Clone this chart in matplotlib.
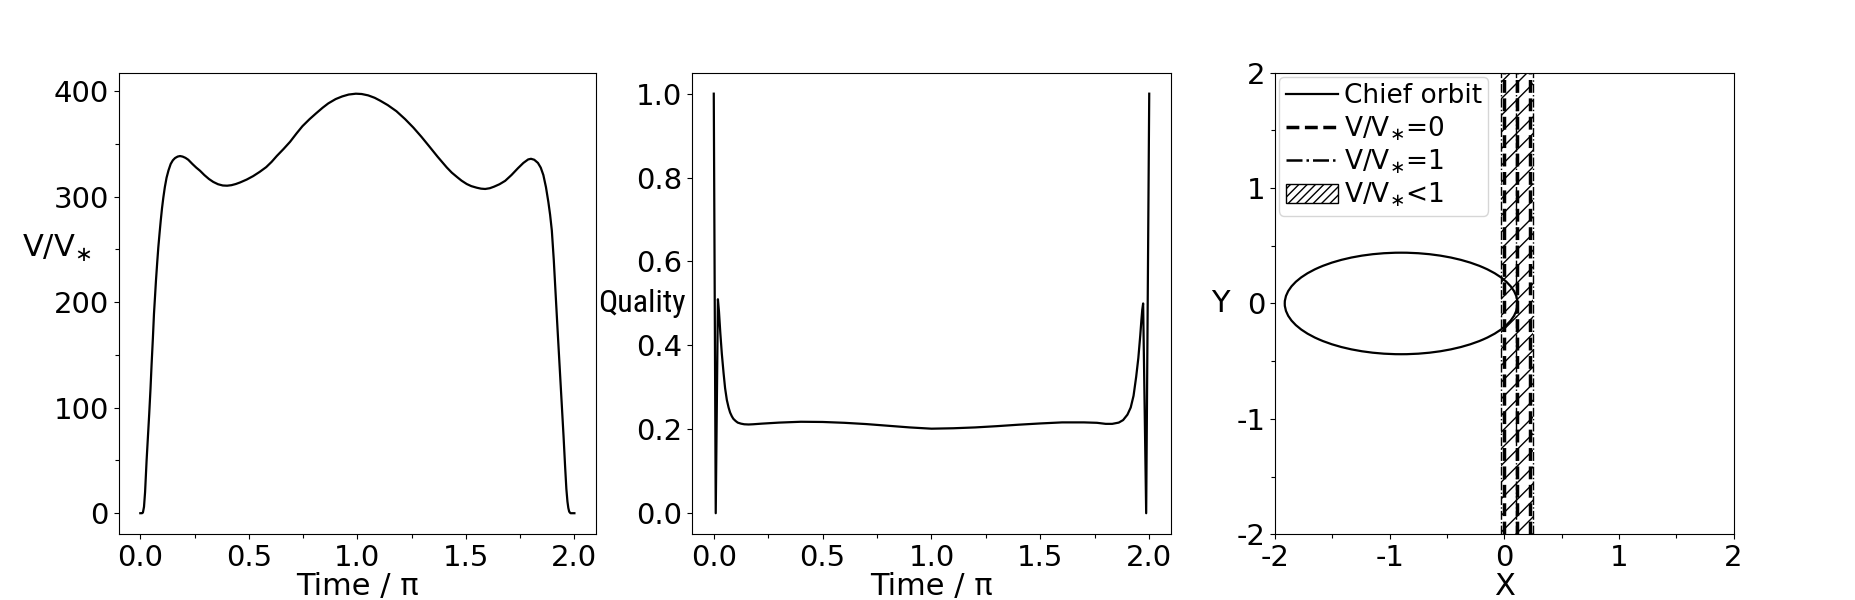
import matplotlib
matplotlib.use('Agg')
import matplotlib.pyplot as plt
from matplotlib.patches import Ellipse, Patch
from matplotlib.lines import Line2D
from matplotlib.ticker import MultipleLocator, NullLocator
from matplotlib import font_manager

plt.rcParams['axes.unicode_minus'] = False
plt.rcParams['mathtext.default'] = 'regular'
plt.rcParams['hatch.linewidth'] = 1.0

# ---------------- data ----------------
time_v = [0.0, 0.008, 0.012, 0.017, 0.022, 0.029, 0.035, 0.041, 0.047, 0.052,
          0.058, 0.063, 0.068, 0.072, 0.078, 0.083, 0.089, 0.094, 0.100, 0.106,
          0.113, 0.121, 0.130, 0.140, 0.150, 0.160, 0.172, 0.183, 0.195, 0.208,
          0.221, 0.240, 0.258, 0.275, 0.295, 0.316, 0.336, 0.358, 0.380, 0.400,
          0.420, 0.440, 0.460, 0.490, 0.520, 0.550, 0.580, 0.605, 0.629, 0.660,
          0.690, 0.720, 0.747, 0.780, 0.810, 0.840, 0.866, 0.900, 0.930, 0.960,
          0.993, 1.020, 1.050, 1.080, 1.105, 1.140, 1.180, 1.220, 1.258, 1.295,
          1.330, 1.370, 1.412, 1.435, 1.460, 1.480, 1.504, 1.525, 1.550, 1.570,
          1.589, 1.610, 1.630, 1.655, 1.681, 1.710, 1.740, 1.765, 1.787, 1.800,
          1.815, 1.832, 1.845, 1.857, 1.869, 1.880, 1.888, 1.896, 1.905, 1.914,
          1.923, 1.932, 1.941, 1.950, 1.957, 1.963, 1.968, 1.972, 1.976, 1.982,
          2.0]
v_ratio = [0.0, 0.0, 0.6, 6, 20, 50, 72, 94, 118, 141,
           166, 189, 206, 220, 238, 252, 266, 277, 289, 299,
           309, 318, 325, 331, 334.5, 336.6, 338, 338.5, 338, 336.8,
           335, 331, 327.5, 324.6, 320.5, 316.8, 314, 311.8, 310.6, 310.4,
           310.9, 312, 313.5, 316.2, 319.5, 323.5, 328, 333, 338.6, 345.2,
           352, 360, 366.8, 373.5, 379, 384.3, 388.4, 392.5, 395, 396.8,
           397.6, 397.3, 396, 393.7, 391, 386.8, 381, 373.5, 365.5, 356.8,
           348, 337.8, 327.7, 322.8, 318.5, 315.2, 312, 310, 308.5, 307.6,
           307.3, 308, 309.5, 311.8, 315, 320.5, 327, 332, 335.3, 335.9,
           335, 332, 327.5, 320.5, 309, 295, 283, 268, 240, 206,
           172, 139, 106, 73, 45, 23, 11, 5, 1.5, 0.0,
           0.0]

time_q = [0.0, 0.009, 0.019, 0.024, 0.03, 0.037, 0.045, 0.052, 0.06, 0.068,
          0.075, 0.083, 0.09, 0.1, 0.11, 0.125, 0.14, 0.16, 0.18, 0.22,
          0.3, 0.4, 0.5, 0.6, 0.7, 0.8, 0.9, 1.0, 1.1, 1.2,
          1.3, 1.4, 1.5, 1.6, 1.7, 1.76, 1.8, 1.83, 1.86, 1.88,
          1.9, 1.915, 1.928, 1.94, 1.95, 1.959, 1.964, 1.968, 1.972, 1.986,
          2.0]
quality = [1.0, 0.0, 0.51, 0.48, 0.43, 0.38, 0.334, 0.298, 0.27, 0.252,
           0.24, 0.231, 0.225, 0.22, 0.216, 0.2135, 0.212, 0.2115, 0.212, 0.2135,
           0.216, 0.218, 0.2175, 0.2155, 0.2125, 0.2085, 0.2045, 0.2015, 0.2025, 0.2045,
           0.2075, 0.211, 0.214, 0.2165, 0.2165, 0.2155, 0.213, 0.213, 0.216, 0.222,
           0.235, 0.252, 0.28, 0.325, 0.37, 0.425, 0.46, 0.485, 0.5, 0.0,
           1.0]

orbit_center = (-0.90, 0.0)
orbit_width = 2.03
orbit_height = 0.88

v0_lines = [0.0, 0.11, 0.225]
v1_lines = [-0.03, 0.10, 0.25]
band_limits = (-0.03, 0.25)

legend_labels = ['Chief orbit', 'V/V$_{\\ast}$=0', 'V/V$_{\\ast}$=1', 'V/V$_{\\ast}$<1']


def narrow_font():
    prefer = ['Liberation Sans Narrow', 'Roboto Condensed', 'Open Sans Condensed',
              'DejaVu Sans Condensed', 'Noto Sans Condensed']
    cands = []
    for f in font_manager.fontManager.ttflist:
        nm = f.name
        st = str(f.stretch).lower()
        narrow = ('narrow' in nm.lower() or 'condensed' in nm.lower()
                  or 'condensed' in st or 'narrow' in f.fname.lower()
                  or 'condensed' in f.fname.lower())
        if not narrow:
            continue
        if f.style != 'normal':
            continue
        w = f.weight if isinstance(f.weight, int) else 400
        if w != 400:
            continue
        low = f.fname.lower()
        if 'bold' in low or 'italic' in low or 'oblique' in low:
            continue
        rank = len(prefer)
        for i, p in enumerate(prefer):
            if p.lower() in nm.lower() or p.replace(' ', '').lower() in low:
                rank = i
                break
        cands.append((rank, f.fname))
    if cands:
        cands.sort()
        return font_manager.FontProperties(fname=cands[0][1])
    return None


# ---------------- figure ----------------
TICK_FS = 21
LABEL_FS = 22

fig = plt.figure(figsize=(18.55, 6), dpi=100)
ax1 = fig.add_axes([118.6 / 1855, 1 - 534.2 / 600, 477.5 / 1855, 461.5 / 600])
ax2 = fig.add_axes([692.0 / 1855, 1 - 534.2 / 600, 479.0 / 1855, 461.5 / 600])
ax3 = fig.add_axes([1275.0 / 1855, 1 - 534.2 / 600, 458.6 / 1855, 461.5 / 600])

for ax in (ax1, ax2, ax3):
    ax.tick_params(which='major', labelsize=TICK_FS, length=3.5, width=0.8)
    ax.tick_params(which='minor', length=2.8, width=0.8)

# panel 1
ax1.plot(time_v, v_ratio, color='black', lw=1.6)
ax1.xaxis.set_major_locator(MultipleLocator(0.5))
ax1.xaxis.set_minor_locator(MultipleLocator(0.25))
ax1.yaxis.set_major_locator(MultipleLocator(100))
ax1.yaxis.set_minor_locator(MultipleLocator(50))
ax1.set_xlim(-0.1, 2.1)
ax1.set_ylim(-19.9, 417.5)
ax1.set_xlabel('Time / π', fontsize=LABEL_FS, labelpad=0)
ax1.set_ylabel('V/V$_{\\ast}$', fontsize=LABEL_FS, rotation=0, ha='center', va='center')
ax1.yaxis.set_label_coords(-0.13, 0.62)

# panel 2
ax2.plot(time_q, quality, color='black', lw=1.6)
ax2.xaxis.set_major_locator(MultipleLocator(0.5))
ax2.xaxis.set_minor_locator(MultipleLocator(0.25))
ax2.yaxis.set_major_locator(MultipleLocator(0.2))
ax2.yaxis.set_minor_locator(NullLocator())
ax2.set_xlim(-0.1, 2.1)
ax2.set_ylim(-0.05, 1.05)
ax2.set_xlabel('Time / π', fontsize=LABEL_FS, labelpad=0)
nfp = narrow_font()
if nfp is not None:
    nfp.set_size(23)
    ax2.set_ylabel('Quality', fontproperties=nfp, rotation=0, ha='center', va='center')
else:
    ax2.set_ylabel('Quality', fontsize=18, rotation=0, ha='center', va='center')
ax2.yaxis.set_label_coords(-0.105, 0.5)

# panel 3
ax3.add_patch(Ellipse(orbit_center, orbit_width, orbit_height, fill=False,
                      edgecolor='black', lw=1.6))
ax3.axvspan(band_limits[0], band_limits[1], facecolor='none', edgecolor='black',
            hatch='//', lw=0)
for xv in v0_lines:
    ax3.axvline(xv, color='black', ls='--', lw=2.5)
for xv in v1_lines:
    ax3.axvline(xv, color='black', ls='-.', lw=1.0)
ax3.set_xlim(-2, 2)
ax3.set_ylim(-2, 2)
ax3.xaxis.set_major_locator(MultipleLocator(1))
ax3.xaxis.set_minor_locator(MultipleLocator(0.5))
ax3.yaxis.set_major_locator(MultipleLocator(1))
ax3.yaxis.set_minor_locator(MultipleLocator(0.5))
ax3.tick_params(which='minor', length=3.0)
ax3.set_xlabel('X', fontsize=LABEL_FS, labelpad=0)
ax3.set_ylabel('Y', fontsize=LABEL_FS, rotation=0, ha='center', va='center')
ax3.yaxis.set_label_coords(-0.12, 0.5)

handles = [Line2D([], [], color='black', ls='-', lw=1.6),
           Line2D([], [], color='black', ls='--', lw=2.5),
           Line2D([], [], color='black', ls='-.', lw=1.8),
           Patch(facecolor='white', edgecolor='black', hatch='////', lw=1.0)]
ax3.legend(handles, legend_labels, loc='upper left', fontsize=19,
           borderaxespad=0.15, borderpad=0.25, handletextpad=0.2,
           labelspacing=0.18, handlelength=2.0)

fig.savefig('out.png', dpi=100)
